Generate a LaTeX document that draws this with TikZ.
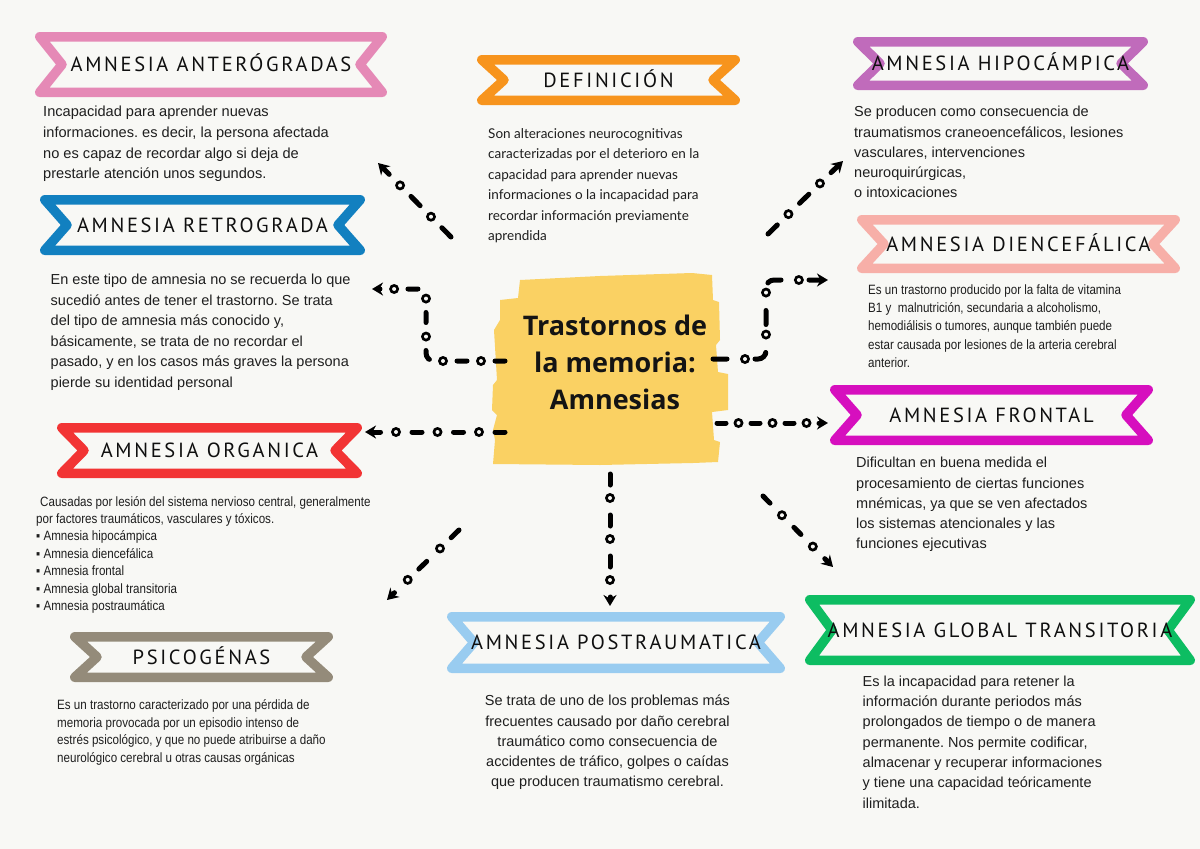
\documentclass[tikz,border=0pt]{standalone}
\usepackage{fontspec}
\setmainfont{Liberation Sans}
\newfontfamily\titlefont[LetterSpace=13]{PT Sans}
\newfontfamily\deffont{Lato}
\newfontfamily\condfont[FakeStretch=0.86]{Liberation Sans}
\newfontfamily\centerfont{Open Sans}
\usetikzlibrary{arrows.meta,decorations.markings}
\frenchspacing
\definecolor{bg}{RGB}{248,248,245}
\definecolor{textc}{RGB}{30,30,30}
\definecolor{titlec}{RGB}{15,15,15}
\definecolor{cpink}{RGB}{229,137,182}
\definecolor{corange}{RGB}{247,148,29}
\definecolor{cpurple}{RGB}{192,107,187}
\definecolor{csalmon}{RGB}{247,175,168}
\definecolor{cblue}{RGB}{18,128,192}
\definecolor{cred}{RGB}{242,52,52}
\definecolor{ctaupe}{RGB}{148,139,122}
\definecolor{clblue}{RGB}{153,204,240}
\definecolor{cmagenta}{RGB}{214,15,190}
\definecolor{cgreen}{RGB}{13,189,98}
\definecolor{cyellow}{RGB}{250,209,99}
\tikzset{
  ribbon/.style={line width=9.5pt, line join=round, fill=bg},
  title/.style={anchor=base, inner sep=0pt, text=titlec, font=\titlefont\fontsize{20.5}{24}\selectfont},
  body/.style={anchor=north west, inner sep=0pt, align=left, text=textc},
  conn/.style n args={4}{line width=5pt, line cap=round, draw=black,
    dash pattern=on #1pt off #2pt,
    -{Stealth[length=11pt,width=13pt]},
    postaction={decorate},
    decoration={markings, mark=between positions #3pt and -12pt step #4pt with {\fill[black] (0,0) circle (5pt); \fill[bg] (0,0) circle (2pt);}}}
}
\newcommand\myribbon[7]{%
  \draw[ribbon, draw=#5] ({#1+4.75},{#2+4.75}) -- ({#3-4.75},{#2+4.75}) -- ({#3-27},{(#2+#4)/2}) -- ({#3-4.75},{#4-4.75}) -- ({#1+4.75},{#4-4.75}) -- ({#1+27},{(#2+#4)/2}) -- cycle;
  \node[title] (#6) at ({(#1+#3)/2},{(#2+#4)/2+7}) {#7};}
\begin{document}
\begin{tikzpicture}[x=1pt,y=-1pt]
\fill[bg] (0,0) rectangle (1200,849);
\useasboundingbox (0,0) rectangle (1200,849);

% central blob
\fill[cyellow] (520,280) -- (600,276) -- (692,273) -- (712,275) -- (713,300) -- (719,302) -- (720,340) -- (716,345) -- (718,372) -- (728,374) -- (728,410) -- (712,412) -- (714,440) -- (720,442) -- (718,462) -- (693,463) -- (600,465) -- (493,464) -- (495,440) -- (493,430) -- (497,415) -- (492,410) -- (493,385) -- (497,380) -- (494,330) -- (500,320) -- (500,300) -- (518,298) -- cycle;
\node[anchor=north, align=center, inner sep=0pt, text=black!92, font=\centerfont\bfseries\fontsize{27}{36.7}\selectfont] (center) at (615,310) {\strut Trastornos de\\la memoria:\\Amnesias};

% ribbons
\myribbon{35}{32}{387}{97}{cpink}{tAnt}{AMNESIA ANTERÓGRADAS}
\myribbon{477}{55}{740}{105}{corange}{tDef}{DEFINICIÓN}
\myribbon{853}{37}{1148}{90}{cpurple}{tHip}{AMNESIA HIPOCÁMPICA}
\myribbon{857}{215}{1180}{273}{csalmon}{tDie}{AMNESIA DIENCEFÁLICA}
\myribbon{40}{195}{365}{255}{cblue}{tRet}{AMNESIA RETROGRADA}
\myribbon{57}{423}{362}{478}{cred}{tOrg}{AMNESIA ORGANICA}
\myribbon{70}{632}{333}{682}{ctaupe}{tPsi}{PSICOGÉNAS}
\myribbon{447}{612}{785}{673}{clblue}{tPos}{AMNESIA POSTRAUMATICA}
\myribbon{830}{385}{1153}{445}{cmagenta}{tFro}{AMNESIA FRONTAL}
\myribbon{805}{595}{1195}{665}{cgreen}{tGlo}{AMNESIA GLOBAL TRANSITORIA}

% body texts
\node[body, font=\fontsize{14.6}{20.7}\selectfont] (bAnt) at (43,102) {\strut Incapacidad para aprender nuevas\\informaciones. es decir, la persona afectada\\no es capaz de recordar algo si deja de\\prestarle atención unos segundos.};
\node[body, font=\deffont\fontsize{13.5}{20.4}\selectfont] (bDef) at (488,124) {\strut Son alteraciones neurocognitivas\\caracterizadas por el deterioro en la\\capacidad para aprender nuevas\\informaciones o la incapacidad para\\recordar información previamente\\aprendida};
\node[body, font=\fontsize{14.5}{20.2}\selectfont] (bHip) at (854,102.5) {\strut Se producen como consecuencia de\\traumatismos craneoencefálicos, lesiones\\vasculares, intervenciones\\neuroquirúrgicas,\\o intoxicaciones};
\node[body, font=\condfont\fontsize{13.5}{18.3}\selectfont] (bDie) at (868,281.2) {\strut Es un trastorno producido por la falta de vitamina\\B1 y\ \ malnutrición, secundaria a alcoholismo,\\hemodiálisis o tumores, aunque también puede\\estar causada por lesiones de la arteria cerebral\\anterior.};
\node[body, font=\fontsize{14.5}{20.5}\selectfont] (bRet) at (50.5,270) {\strut En este tipo de amnesia no se recuerda lo que\\sucedió antes de tener el trastorno. Se trata\\del tipo de amnesia más conocido y,\\básicamente, se trata de no recordar el\\pasado, y en los casos más graves la persona\\pierde su identidad personal};
\node[body, font=\condfont\fontsize{13.5}{17.4}\selectfont] (bOrg) at (36,493.8) {\strut\hspace{4pt}Causadas por lesión del sistema nervioso central, generalmente\\por factores traumáticos, vasculares y tóxicos.\\▪ Amnesia hipocámpica\\▪ Amnesia diencefálica\\▪ Amnesia frontal\\▪ Amnesia global transitoria\\▪ Amnesia postraumática};
\node[body, font=\condfont\fontsize{13.5}{17.7}\selectfont] (bPsi) at (57,697) {\strut Es un trastorno caracterizado por una pérdida de\\memoria provocada por un episodio intenso de\\estrés psicológico, y que no puede atribuirse a daño\\neurológico cerebral u otras causas orgánicas};
\node[body, font=\fontsize{14.5}{20.2}\selectfont] (bFro) at (856,453.6) {\strut Dificultan en buena medida el\\procesamiento de ciertas funciones\\mnémicas, ya que se ven afectados\\los sistemas atencionales y las\\funciones ejecutivas};
\node[body, anchor=north, align=center, font=\fontsize{14.5}{20.25}\selectfont] (bPos) at (607.5,691.5) {\strut Se trata de uno de los problemas más\\frecuentes causado por daño cerebral\\traumático como consecuencia de\\accidentes de tráfico, golpes o caídas\\que producen traumatismo cerebral.};
\node[body, font=\fontsize{14.5}{20.33}\selectfont] (bGlo) at (862.5,671.8) {\strut Es la incapacidad para retener la\\información durante periodos más\\prolongados de tiempo o de manera\\permanente. Nos permite codificar,\\almacenar y recuperar informaciones\\y tiene una capacidad teóricamente\\ilimitada.};

% connectors
\coordinate (a1) at (451,237); \coordinate (a2) at (378,163);
\draw[conn={13}{31}{28.5}{44}] (a1) -- (a2);
\coordinate (h1) at (768,234); \coordinate (h2) at (843,161);
\draw[conn={13}{31}{28.5}{44}] (h1) -- (h2);
\coordinate (r1) at (505,361); \coordinate (rm) at (426,289); \coordinate (r2) at (372,289);
\draw[conn={10}{28}{24}{38}, rounded corners=8pt] (r1) -| (rm) -- (r2);
\coordinate (d1) at (713,359); \coordinate (dm) at (766,280); \coordinate (d2) at (828,280);
\draw[conn={14}{28}{32}{42}, rounded corners=8pt] (d1) -| (dm) -- (d2);
\coordinate (o1) at (505,432); \coordinate (o2) at (365,432);
\draw[conn={10}{31.5}{26}{41.5}] (o1) -- (o2);
\coordinate (f1) at (717,423); \coordinate (f2) at (828,423);
\draw[conn={9}{25}{21.5}{34}] (f1) -- (f2);
\coordinate (p1) at (610,474); \coordinate (p2) at (610,606);
\draw[conn={11}{30}{24}{41}] (p1) -- (p2);
\coordinate (s1) at (459,530); \coordinate (s2) at (387,600);
\draw[conn={11}{34}{26.5}{45}] (s1) -- (s2);
\coordinate (g1) at (763,496); \coordinate (g2) at (833,567);
\draw[conn={10}{34}{27}{44}] (g1) -- (g2);
\end{tikzpicture}
\end{document}
